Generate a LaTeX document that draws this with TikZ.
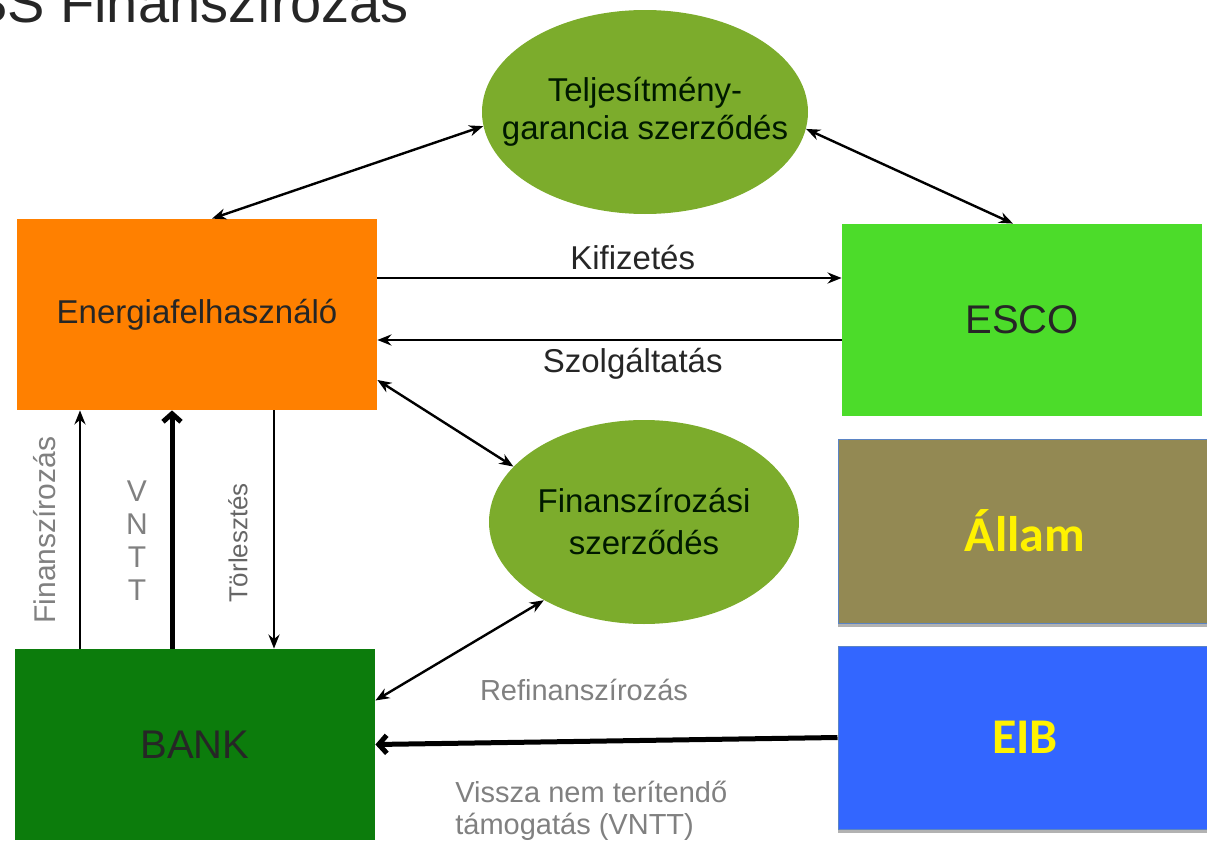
\documentclass[tikz,border=0pt]{standalone}
\usepackage{fontspec}
\setmainfont{Liberation Sans}
\newfontfamily\calibri{Carlito}
\usepackage{xcolor}
\usetikzlibrary{shapes,arrows,arrows.meta,positioning}

\definecolor{userorange}{RGB}{255,128,0}
\definecolor{escogreen}{RGB}{76,220,42}
\definecolor{bankgreen}{RGB}{12,124,12}
\definecolor{contractgreen}{RGB}{124,172,44}
\definecolor{stateolive}{RGB}{147,137,83}
\definecolor{eibblue}{RGB}{51,102,255}
\definecolor{framblue}{RGB}{91,132,196}
\definecolor{notegray}{RGB}{128,128,128}

\begin{document}
\begin{tikzpicture}[
    x=0.5pt, y=-0.5pt,
    box/.style={rectangle, fill=#1, inner sep=0pt, minimum width=180pt, minimum height=95.5pt,
        align=center, text=black!85, font=\fontsize{16.5}{19}\selectfont},
    fundbox/.style={rectangle, fill=#1, draw=framblue, line width=0.5pt, inner sep=0pt,
        minimum width=187pt, minimum height=92pt, text=yellow, font=\calibri\bfseries\fontsize{25}{28}\selectfont},
    contract/.style={ellipse, fill=contractgreen, inner sep=0pt},
    contracttext/.style={align=center, text=black!90!green, font=\fontsize{16.5}{#1}\selectfont},
    arrow/.style={->, line width=1.2pt, >={Stealth[length=7pt, width=5.5pt]}},
    twoway/.style={<->, line width=1.2pt, >={Stealth[length=7pt, width=5.5pt]}},
    bigarrow/.style={->, line width=2.5pt, >={Straight Barb[length=4pt, width=9pt]}},
    note/.style={text=notegray, font=\fontsize{14.5}{16}\selectfont}
]

\useasboundingbox (0,0) rectangle (1207,846);
\clip (0,0) rectangle (1207,846);

% Title (cut off by the frame)
\node[anchor=base east, text=black!85, font=\fontsize{28}{30}\selectfont] (title) at (416,22) {SS Finanszírozás};

% Parties
\node[box=userorange] (user) at (197,314.5) {Energiafelhasználó};
\node[box=escogreen, minimum height=96pt, font=\fontsize{20}{24}\selectfont] (esco) at (1022,320) {ESCO};
\node[box=bankgreen, font=\fontsize{20}{24}\selectfont] (bank) at (195,744.5) {BANK};

% Funding sources
\fill[gray!60] (838,623) rectangle (1212,627);
\fill[gray!60] (838,829) rectangle (1212,833);
\node[fundbox=stateolive] (allam) at (1025,531) {Állam};
\node[fundbox=eibblue, minimum height=91.5pt] (eib) at (1025,737.5) {EIB};

% Contracts
\node[contract, minimum width=163pt, minimum height=102pt] (perf) at (645,112) {};
\node[contracttext=19pt] (perf-text) at (perf) {Teljesítmény-\\garancia szerződés};
\node[contract, minimum width=155pt, minimum height=102pt] (fin) at (644,522) {};
\node[contracttext=21pt] (fin-text) at (fin) {Finanszírozási\\szerződés};

% Contract arrows
\draw[twoway] ([xshift=7.5pt]user.north) -- (perf.185);
\draw[twoway] (perf.354) -- ([xshift=-4.5pt]esco.north);
\draw[twoway] ([yshift=-32.75pt]user.east) -- (fin.157);
\draw[twoway] (fin.218) -- ([yshift=22pt]bank.east);

% Payments between user and ESCO
\coordinate (kif) at ([yshift=18.25pt]user.east);
\coordinate (szol) at ([yshift=-12.75pt]user.east);
\draw[arrow] (kif) -- node[pos=0.55, above, text=black!85, font=\fontsize{16.5}{19}\selectfont] (kif-label) {Kifizetés} (kif -| esco.west);
\draw[arrow] (szol -| esco.west) -- node[pos=0.45, below, text=black!85, font=\fontsize{16.5}{19}\selectfont] (szol-label) {Szolgáltatás} (szol);

% Bank flows
\draw[arrow] ([xshift=-57.5pt]bank.north) -- ([xshift=-57.5pt]bank.north |- user.south);
\draw[bigarrow] ([xshift=-11.5pt]bank.north) -- ([xshift=-11.5pt]bank.north |- user.south);
\draw[arrow] ([xshift=38.5pt]user.south) -- ([xshift=38.5pt]user.south |- bank.north);
\node[note, rotate=90, font=\fontsize{15}{16}\selectfont] (fin-label) at (45,530) {Finanszírozás};
\node[note, align=center, font=\fontsize{15}{16.5}\selectfont] (vntt-label) at (137,541) {V\\N\\T\\T};
\node[note, rotate=90, text=black!60, font=\fontsize{13}{15}\selectfont] (torl-label) at (238,543) {Törlesztés};

% Refinancing from EIB
\draw[bigarrow] (eib.west) -- (bank.east);
\node[note, anchor=base] (refin-label) at (584,700) {Refinanszírozás};
\node[note, anchor=west, align=left, inner sep=0pt] (vntt-note) at (455,811) {Vissza nem terítendő\\támogatás (VNTT)};

\end{tikzpicture}
\end{document}
